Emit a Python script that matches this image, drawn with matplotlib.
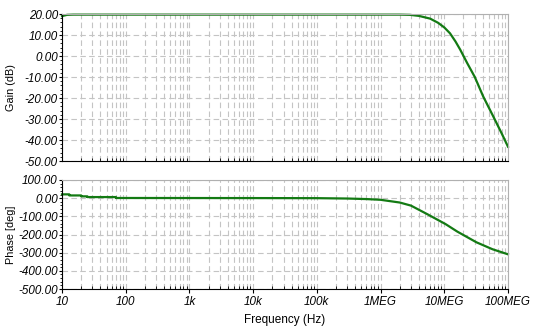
import matplotlib
matplotlib.use("Agg")
from matplotlib import pyplot as plt
from matplotlib.ticker import FixedLocator, LogLocator, NullFormatter

plt.rcParams['font.family'] = ['Liberation Sans', 'DejaVu Sans']

# Bode data (freq in Hz)
freq_gain = [10, 12, 15, 100, 1e3, 1e4, 1e5, 1e6, 2e6, 2.9e6, 4e6, 6e6, 8e6,
             10e6, 12.3e6, 15e6, 17.8e6, 23e6, 30e6, 41e6, 59e6, 80e6, 100e6]
gain_db = [19.0, 19.6, 19.7, 19.7, 19.7, 19.7, 19.7, 19.7, 19.7, 19.6, 19.1,
           17.8, 15.8, 13.6, 10.8, 6.9, 3.0, -3.5, -9.9, -19.4, -28.9, -37.0, -43.2]

freq_phase = [10, 13, 13.01, 20, 20.01, 25, 25.01, 70, 70.01, 1e4, 1e5, 3e5,
              6e5, 1e6, 2e6, 3e6, 5.4e6, 10.5e6, 16e6, 32e6, 57e6, 100e6]
phase_deg = [21, 21, 15, 15, 10, 10, 6, 6, 1, 0.5, 0, -2,
             -5, -9, -24, -41, -88, -143, -184, -243, -281, -309]

gain_ticks = [20, 10, 0, -10, -20, -30, -40, -50]
phase_ticks = [100, 0, -100, -200, -300, -400, -500]
freq_ticks = [10, 100, 1e3, 1e4, 1e5, 1e6, 1e7, 1e8]
freq_labels = ["10", "100", "1k", "10k", "100k", "1MEG", "10MEG", "100MEG"]

green = "#137a13"
grid_col = "#c4c4c4"

fig = plt.figure(figsize=(5.46, 3.35), dpi=100)
ax1 = fig.add_axes([0.1136, 0.5194, 0.8168, 0.4388])
ax2 = fig.add_axes([0.1136, 0.1373, 0.8168, 0.3254])


def style_axes(ax, yticks, ystep):
    ax.set_xscale("log")
    ax.set_xlim(10, 1e8)
    ax.set_ylim(min(yticks), max(yticks))
    ax.set_yticks(yticks)
    ax.set_yticklabels([f"{v:.2f}" for v in yticks], fontsize=8.4, style="italic")
    minor = []
    v = min(yticks)
    while v <= max(yticks):
        minor.append(v)
        v += ystep
    ax.yaxis.set_minor_locator(FixedLocator(minor))
    ax.xaxis.set_minor_locator(LogLocator(base=10, subs=range(2, 10), numticks=20))
    ax.xaxis.set_minor_formatter(NullFormatter())
    ax.tick_params(axis="y", which="major", direction="out", length=2.5, width=0.8, pad=0.5)
    ax.tick_params(axis="y", which="minor", direction="out", length=1.8, width=0.6)
    ax.tick_params(axis="x", which="major", direction="out", length=3, width=0.8, pad=2)
    ax.tick_params(axis="x", which="minor", direction="in", length=2, width=0.6)
    ax.grid(True, which="major", axis="both", color=grid_col, linestyle=(0, (5, 3)), linewidth=0.8)
    ax.grid(True, which="minor", axis="x", color=grid_col, linestyle=(0, (5, 3)), linewidth=0.8)
    ax.spines["top"].set_color("#b0b0b0")
    ax.spines["right"].set_color("#b0b0b0")
    ax.spines["left"].set_color("black")
    ax.spines["bottom"].set_color("black")
    ax.set_axisbelow(True)


style_axes(ax1, gain_ticks, 2)
style_axes(ax2, phase_ticks, 20)

ax1.plot(freq_gain, gain_db, color=green, linewidth=1.6, clip_on=False)
ax2.plot(freq_phase, phase_deg, color=green, linewidth=1.6, clip_on=False)

ax1.set_xticks(freq_ticks)
ax1.set_xticklabels([])
ax1.tick_params(axis="x", which="major", length=0)
ax2.set_xticks(freq_ticks)
ax2.set_xticklabels(freq_labels, fontsize=8.4, style="italic")

ax1.set_ylabel("Gain (dB)", fontsize=7.8)
ax2.set_ylabel("Phase [deg]", fontsize=7.8)
ax2.set_xlabel("Frequency (Hz)", fontsize=8.5, labelpad=4)
ax1.yaxis.set_label_coords(-0.104, 0.5)
ax2.yaxis.set_label_coords(-0.104, 0.5)

fig.savefig("out.png", dpi=100)
